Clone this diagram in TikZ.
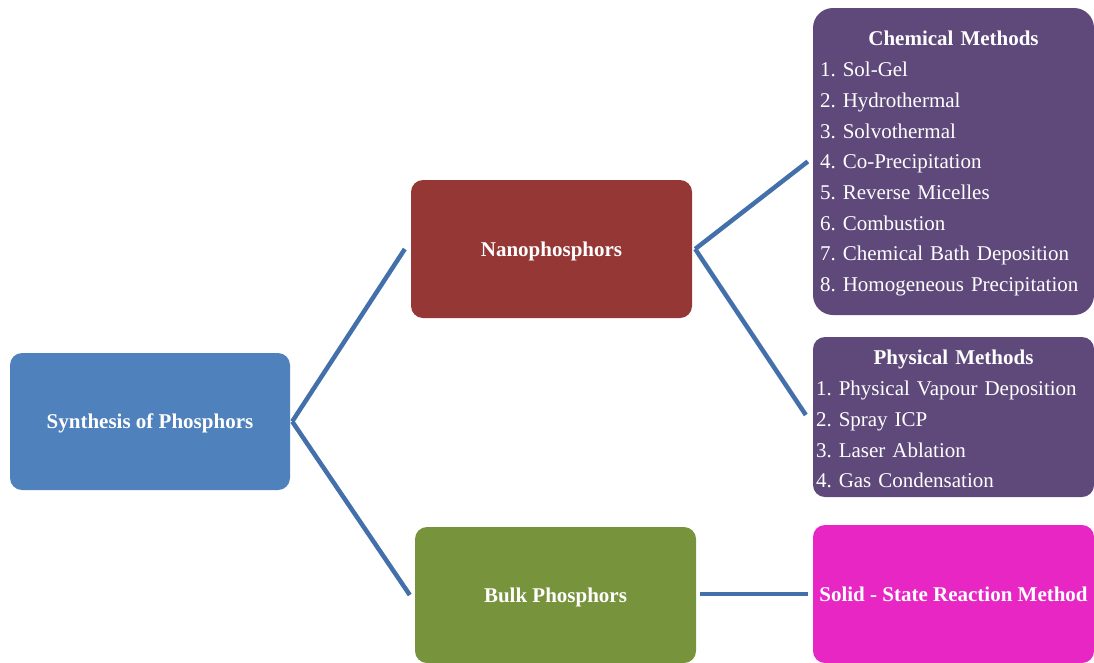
\documentclass[tikz,border=0pt]{standalone}
\usepackage{fontspec}
\setmainfont{Liberation Serif}

\definecolor{synthblue}{RGB}{79,129,189}
\definecolor{nanored}{RGB}{149,55,53}
\definecolor{bulkgreen}{RGB}{119,147,60}
\definecolor{methodpurple}{RGB}{95,73,122}
\definecolor{solidpink}{RGB}{231,38,196}
\definecolor{linkblue}{RGB}{67,112,170}

\begin{document}
\begin{tikzpicture}[x=1pt, y=-1pt,
	box/.style={rectangle, rounded corners=12pt, text=white, minimum width=281pt, inner sep=0pt, align=center, text height=19pt, text depth=5pt, font=\fontsize{21}{30.7}\selectfont\bfseries},
	listbox/.style={rectangle, rounded corners=12pt, text=white, minimum width=281pt, text width=267pt, inner xsep=7pt, inner ysep=0pt, align=left, fill=methodpurple, font=\fontsize{21}{30.7}\selectfont\frenchspacing},
	link/.style={draw=linkblue, line width=4.5pt}]
	\useasboundingbox (0,0) rectangle (1094,662);

	\node (synth) at (150,421.5) [box, fill=synthblue, minimum width=280pt, minimum height=137pt] {Synthesis of Phosphors};
	\node (nano) at (551.5,249) [box, fill=nanored, minimum height=138pt] {Nanophosphors};
	\node (bulk) at (555.5,595) [box, fill=bulkgreen, minimum height=136pt] {Bulk Phosphors};

	\node (chem) at (953.5,161.5) [listbox, rounded corners=20pt, minimum height=307pt] {\rule{0pt}{19pt}\makebox[267pt]{\bfseries Chemical Methods}\\
		1. Sol-Gel\\
		2. Hydrothermal\\
		3. Solvothermal\\
		4. Co-Precipitation\\
		5. Reverse Micelles\\
		6. Combustion\\
		7. Chemical Bath Deposition\\
		8. Homogeneous Precipitation};
	\node (phys) at (953.5,417) [listbox, inner xsep=3pt, text width=275pt, minimum height=160pt] {\rule{0pt}{19pt}\makebox[275pt]{\bfseries Physical Methods}\\
		1. Physical Vapour Deposition\\
		2. Spray ICP\\
		3. Laser Ablation\\
		4. Gas Condensation};
	\node (solid) at (953.5,594) [box, fill=solidpink, minimum height=138pt] {Solid - State Reaction Method};

	% links
	\draw[link] ([xshift=2pt]synth.east) -- ([xshift=-6pt]nano.west);
	\draw[link] ([xshift=2pt]synth.east) -- ([xshift=-5pt]bulk.west);
	\draw[link] ([xshift=3pt]nano.east) -- ([xshift=-5pt]chem.west);
	\draw[link] ([xshift=3pt]nano.east) -- ([xshift=-7pt,yshift=2pt]phys.west);
	\draw[link] ([xshift=4pt,yshift=1pt]bulk.east) -- ([xshift=-5pt]solid.west);
\end{tikzpicture}
\end{document}
